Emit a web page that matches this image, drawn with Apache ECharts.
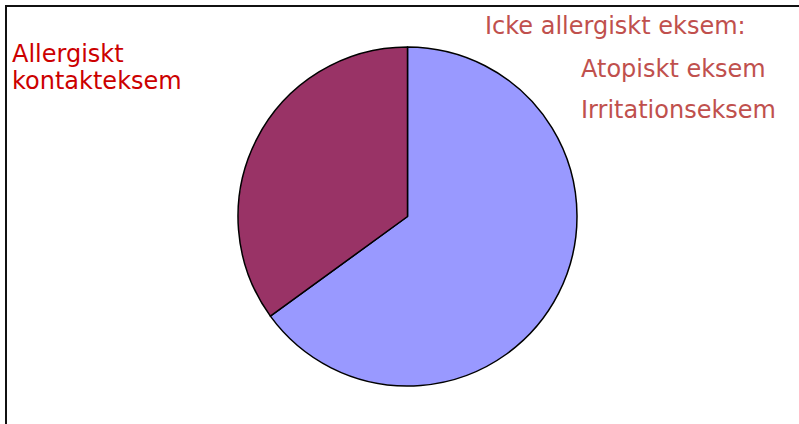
<!DOCTYPE html>
<html>
<head>
<meta charset="utf-8">
<script src="https://cdn.jsdelivr.net/npm/echarts@6/dist/echarts.min.js"></script>
<style>html,body{margin:0;padding:0;background:#fff}#c{width:799px;height:424px}</style>
</head>
<body>
<div id="c"></div>
<script>
var categories = ['Icke allergiskt eksem', 'Allergiskt kontakteksem'];
var values = [65, 35];
var sliceColors = ['#9999ff', '#993366'];
var leftLabelLines = ['Allergiskt', 'kontakteksem'];
var rightHeader = 'Icke allergiskt eksem:';
var rightItems = ['Atopiskt eksem', 'Irritationseksem'];

var chart = echarts.init(document.getElementById('c'), null, {renderer: 'svg'});
var font = '"DejaVu Sans", Verdana, sans-serif';
var graphics = [
  {type: 'polyline', shape: {points: [[6, 424], [6, 6], [799, 6]]}, style: {stroke: '#111', lineWidth: 2, fill: null}, silent: true}
];
leftLabelLines.forEach(function (t, i) {
  graphics.push({type: 'text', x: 12, y: 42 + i * 27, style: {text: t, fill: '#cc0000', font: '24px ' + font, verticalAlign: 'top'}});
});
graphics.push({type: 'text', x: 485, y: 14, style: {text: rightHeader, fill: '#c0504d', font: '24px ' + font, verticalAlign: 'top'}});
rightItems.forEach(function (t, i) {
  graphics.push({type: 'text', x: 581, y: 57 + i * 41, style: {text: t, fill: '#c0504d', font: '24px ' + font, verticalAlign: 'top'}});
});

chart.setOption({
  animation: false,
  backgroundColor: '#fff',
  graphic: graphics,
  series: [{
    type: 'pie',
    center: [407.5, 216.5],
    radius: 169.5,
    startAngle: 90,
    clockwise: true,
    label: {show: false},
    labelLine: {show: false},
    emphasis: {disabled: true},
    itemStyle: {borderColor: '#000', borderWidth: 1.5},
    data: categories.map(function (c, i) {
      return {name: c, value: values[i], itemStyle: {color: sliceColors[i]}};
    })
  }]
});
</script>
</body>
</html>
